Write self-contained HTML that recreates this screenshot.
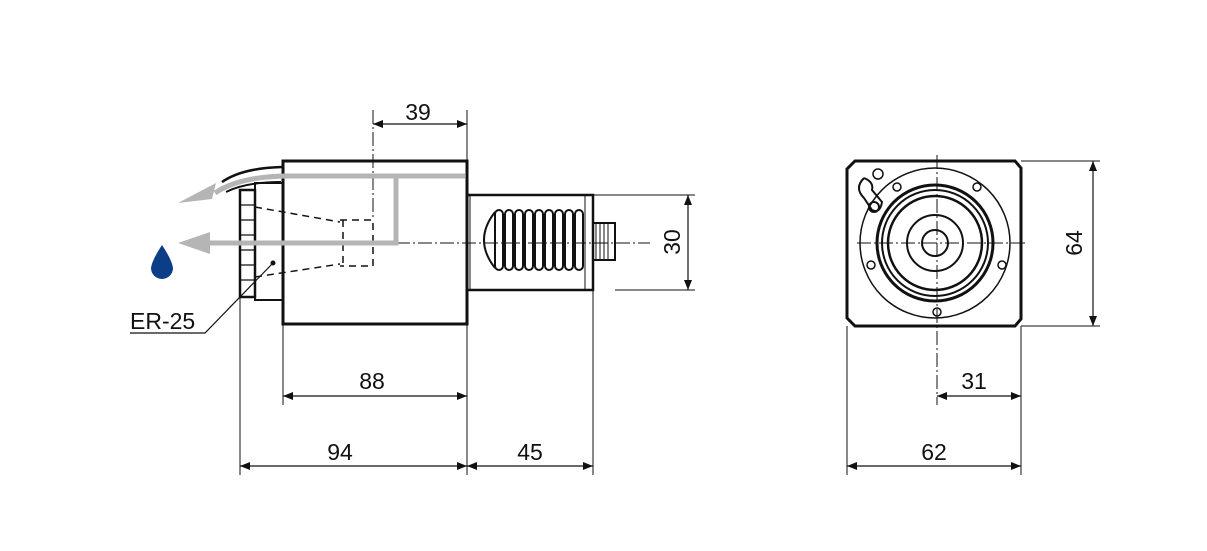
<!DOCTYPE html>
<html><head><meta charset="utf-8"><style>body{margin:0;background:#fff}svg{display:block}text{font-family:"Liberation Sans",sans-serif;font-size:23px;fill:#111}</style></head><body>
<svg width="1207" height="551" viewBox="0 0 1207 551" xmlns="http://www.w3.org/2000/svg">
<defs><marker id="a" viewBox="0 0 10 10" refX="10" refY="5" markerWidth="10" markerHeight="10" markerUnits="userSpaceOnUse" orient="auto-start-reverse"><path d="M0,1 L10,5 L0,9z" fill="#111"/></marker></defs>
<g stroke="#111" fill="none">
<rect x="283" y="161" width="184" height="163" stroke-width="3"/>
<rect x="255" y="183" width="28" height="117" stroke-width="2"/>
<rect x="240" y="190" width="15" height="107" stroke-width="2.5"/>
<path d="M240,205h15M240,220h15M240,235h15M240,250h15M240,265h15M240,280h15" stroke-width="1.2"/>
<path d="M222,182 q20,-14 60,-15" stroke-width="2.5"/>
<path d="M226,192 q20,-10 55,-10" stroke-width="2"/>
<path d="M255,207 L340,222 M255,277 L340,264" stroke-width="1.5" stroke-dasharray="7,5"/>
<path d="M340,220 h33 v46 h-33 M343,220 v46" stroke-width="1.5" stroke-dasharray="7,5"/>
<line x1="373" y1="110" x2="373" y2="220" stroke-width="1" stroke-dasharray="14,3,2,3"/>
<line x1="467" y1="110" x2="467" y2="161" stroke-width="1"/>
<rect x="467" y="195" width="126" height="95" stroke-width="2.5"/>
<path d="M470,195v95M585,195v95" stroke-width="1"/>
<path d="M495,212 q-22,28 0,56" stroke-width="2"/>
<g stroke-width="2"><rect x="495" y="210" width="8" height="60" rx="4"/><rect x="505" y="210" width="8" height="60" rx="4"/><rect x="515" y="210" width="8" height="60" rx="4"/><rect x="525" y="210" width="8" height="60" rx="4"/><rect x="535" y="210" width="8" height="60" rx="4"/><rect x="545" y="210" width="8" height="60" rx="4"/><rect x="555" y="210" width="8" height="60" rx="4"/><rect x="565" y="210" width="8" height="60" rx="4"/><rect x="575" y="210" width="8" height="60" rx="4"/></g>
<rect x="593" y="223" width="22" height="37" stroke-width="2"/>
<path d="M596,223v37M600,223v37M604,223v37M608,223v37" stroke-width="1"/>
<line x1="396" y1="243" x2="650" y2="243" stroke-width="1" stroke-dasharray="14,3,2,3"/>
<path d="M283,324V405M467,324V475M240,297V475M593,290V475" stroke-width="1"/>
<path d="M593,195H695M615,290H695" stroke-width="1"/>
<line x1="373" y1="124" x2="467" y2="124" stroke-width="1.2" marker-start="url(#a)" marker-end="url(#a)"/>
<line x1="283" y1="396" x2="467" y2="396" stroke-width="1.2" marker-start="url(#a)" marker-end="url(#a)"/>
<line x1="240" y1="466" x2="467" y2="466" stroke-width="1.2" marker-start="url(#a)" marker-end="url(#a)"/>
<line x1="467" y1="466" x2="593" y2="466" stroke-width="1.2" marker-start="url(#a)" marker-end="url(#a)"/>
<line x1="688" y1="195" x2="688" y2="290" stroke-width="1.2" marker-start="url(#a)" marker-end="url(#a)"/>
<path d="M130,333H205L273,263" stroke-width="1.2"/>
<circle cx="273" cy="263" r="2" fill="#111"/>
<path d="M855,161H1015L1021,168V319L1015,326H855L847,318V169Z" stroke-width="3"/>
<circle cx="935" cy="243" r="75" stroke-width="1.5"/>
<circle cx="935" cy="243" r="58" stroke-width="3"/>
<circle cx="935" cy="243" r="53" stroke-width="2"/>
<circle cx="935" cy="243" r="47" stroke-width="2.5"/>
<circle cx="935" cy="243" r="28" stroke-width="2"/>
<circle cx="935" cy="243" r="13" stroke-width="2"/>
<g stroke-width="1.5"><circle cx="897" cy="187" r="4"/><circle cx="977" cy="187" r="4"/><circle cx="871" cy="265" r="4"/><circle cx="1002" cy="265" r="4"/><circle cx="937" cy="312" r="4"/><circle cx="878" cy="174" r="5"/></g>
<path d="M864,178 q-10,10 0,20 L872,210 q8,4 10,-8 L872,190 q2,-8 -8,-12" stroke-width="2"/>
<circle cx="874" cy="207" r="5" stroke-width="2"/>
<line x1="857" y1="243" x2="1025" y2="243" stroke-width="1" stroke-dasharray="14,3,2,3"/>
<line x1="937" y1="155" x2="937" y2="405" stroke-width="1" stroke-dasharray="14,3,2,3"/>
<path d="M847,326V475M1021,326V475M1021,161H1100M1021,326H1100" stroke-width="1"/>
<line x1="1093" y1="161" x2="1093" y2="326" stroke-width="1.2" marker-start="url(#a)" marker-end="url(#a)"/>
<line x1="937" y1="396" x2="1021" y2="396" stroke-width="1.2" marker-start="url(#a)" marker-end="url(#a)"/>
<line x1="847" y1="466" x2="1021" y2="466" stroke-width="1.2" marker-start="url(#a)" marker-end="url(#a)"/>
</g>
<g stroke="#b5b5b5" stroke-width="5" fill="none">
<path d="M465,176H290Q240,176 215,193"/>
<path d="M396,176V243H205"/>
</g>
<path d="M178,203 L216,183 L212,199 Z" fill="#b5b5b5"/>
<path d="M178,243 L210,232 L210,254 Z" fill="#b5b5b5"/>
<path d="M162,245 Q152,260 151,268 A11,11 0 0 0 173,268 Q172,260 162,245Z" fill="#0c3d87"/>
<text x="418" y="120" text-anchor="middle">39</text>
<text x="372" y="389" text-anchor="middle">88</text>
<text x="340" y="460" text-anchor="middle">94</text>
<text x="530" y="460" text-anchor="middle">45</text>
<text x="680" y="242" text-anchor="middle" transform="rotate(-90 680 242)">30</text>
<text x="1082" y="243" text-anchor="middle" transform="rotate(-90 1082 243)">64</text>
<text x="974" y="389" text-anchor="middle">31</text>
<text x="934" y="460" text-anchor="middle">62</text>
<text x="130" y="329">ER-25</text>
</svg>
</body></html>
